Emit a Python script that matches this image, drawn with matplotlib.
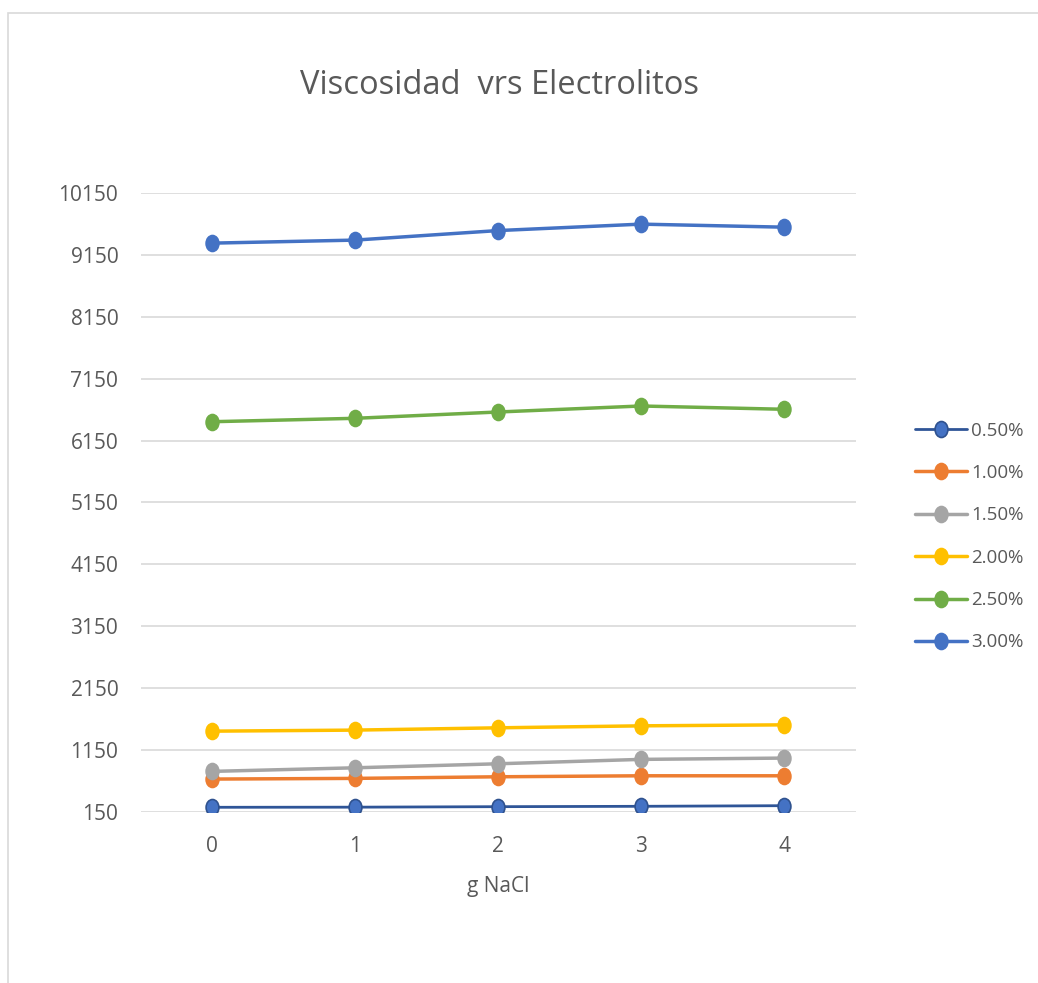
import matplotlib
matplotlib.use("Agg")
import matplotlib.pyplot as plt
from matplotlib.path import Path
from matplotlib.patches import Rectangle

plt.rcParams['font.family'] = ['Open Sans', 'DejaVu Sans']

# Data
nacl = [0, 1, 2, 3, 4]
labels = ['0.50%', '1.00%', '1.50%', '2.00%', '2.50%', '3.00%']
v050 = [226, 228, 236, 242, 252]
v100 = [682, 693, 719, 735, 735]
v150 = [806, 864, 929, 1000, 1021]
v200 = [1456, 1473, 1510, 1542, 1558]
v250 = [6455, 6510, 6612, 6709, 6656]
v300 = [9340, 9389, 9543, 9647, 9598]
series = [v050, v100, v150, v200, v250, v300]

yticks = [150, 1150, 2150, 3150, 4150, 5150, 6150, 7150, 8150, 9150, 10150]

# Styles (line, marker face, marker edge, line width)
styles = [
    ('#2F5597', '#4472C4', '#2F528F', 2.0),
    ('#ED7D31', '#ED7D31', '#ED7D31', 2.5),
    ('#A5A5A5', '#A5A5A5', '#A5A5A5', 2.5),
    ('#FFC000', '#FFC000', '#FFC000', 2.5),
    ('#70AD47', '#70AD47', '#70AD47', 2.5),
    ('#4472C4', '#4472C4', '#4472C4', 2.5),
]

# slightly squashed circle, like the stretched Excel export
circ = Path.unit_circle()
ell = Path(circ.vertices * [0.8, 1.0], circ.codes)

W, H = 1038, 983
fig = plt.figure(figsize=(W / 100, H / 100), dpi=100)
ax = fig.add_axes([140.5 / W, 171 / H, 715 / W, 619 / H])

for vals, lab, (lc, fc, ec, lw) in zip(series, labels, styles):
    ax.plot(nacl, vals, color=lc, lw=lw, marker=ell, markersize=11.5,
            markerfacecolor=fc, markeredgecolor=ec, markeredgewidth=1.2,
            label=lab, solid_capstyle='round', zorder=3)

ax.set_xlim(-0.5, 4.5)
ax.set_ylim(150, 10150)
ax.set_yticks(yticks)
ax.set_xticks(nacl)
ax.grid(axis='y', color='#D9D9D9', lw=1.2)
ax.set_axisbelow(True)
for s in ax.spines.values():
    s.set_visible(False)
ax.tick_params(length=0, labelsize=15, colors='#595959')
ax.tick_params(axis='y', pad=16)
ax.tick_params(axis='x', pad=17)

ax.set_xlabel('g NaCl', fontsize=15, color='#595959', labelpad=14)

fig.text(499 / W, 1 - 86 / H, 'Viscosidad  vrs Electrolitos', fontsize=23.5,
         color='#595959', ha='center', va='center')

ax.legend(loc='center left', bbox_to_anchor=(915 / W, 446.5 / H),
          bbox_transform=fig.transFigure, frameon=False, fontsize=13.5,
          labelcolor='#595959', handlelength=2.75, handletextpad=0.25,
          labelspacing=1.3, borderpad=0, borderaxespad=0)

# chart area border (only left and top visible in the crop)
fig.patches.append(Rectangle((7.5 / W, -0.1), 1.2, 1 - 13.5 / H + 0.1,
                             transform=fig.transFigure, fill=False,
                             edgecolor='#D9D9D9', lw=1.2))

fig.savefig('out.png', dpi=100)
